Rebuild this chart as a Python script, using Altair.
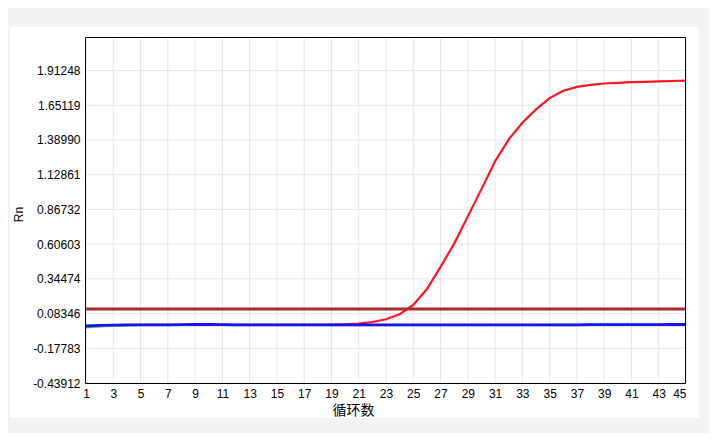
import altair as alt
import pandas as pd

# ---------------- data ----------------
cycles = list(range(1, 46))

red_vals = [-0.014, -0.009, -0.005, -0.003, -0.002, -0.002, -0.002, -0.002, -0.002, -0.002,
            -0.002, -0.002, -0.002, -0.002, -0.002, -0.002, -0.002, -0.001, 0.000, 0.003,
            0.008, 0.020, 0.041, 0.079, 0.149, 0.268, 0.435, 0.610, 0.815, 1.020,
            1.230, 1.395, 1.520, 1.620, 1.705, 1.760, 1.790, 1.805, 1.815, 1.820,
            1.825, 1.828, 1.831, 1.834, 1.836]

orange_vals = [-0.022, -0.014, -0.008, -0.005, -0.004, -0.004, -0.004, -0.004, -0.004, -0.004,
               -0.004, -0.004, -0.004, -0.004, -0.004, -0.004, -0.004, -0.004, -0.004, -0.004,
               -0.004, -0.004, -0.004, -0.004, -0.004, -0.004, -0.004, -0.004, -0.004, -0.004,
               -0.004, -0.004, -0.004, -0.004, -0.004, -0.004, -0.004, -0.004, -0.004, -0.004,
               -0.004, -0.004, -0.004, -0.004, -0.004]

green_vals = [-0.018, -0.012, -0.006, -0.004, -0.003, -0.003, -0.003, -0.003, -0.003, -0.003,
              -0.003, -0.003, -0.003, -0.003, -0.003, -0.003, -0.003, -0.003, -0.003, -0.003,
              -0.002, -0.002, -0.002, -0.002, -0.002, -0.002, -0.002, -0.002, -0.002, -0.002,
              -0.002, -0.002, -0.002, -0.002, -0.001, -0.001, 0.000, 0.001, 0.001, 0.002,
              0.002, 0.002, 0.002, 0.002, 0.002]

blue_vals = [-0.010, -0.006, -0.003, -0.002, -0.002, -0.002, -0.001, 0.000, 0.001, 0.001,
             0.000, -0.001, -0.002, -0.002, -0.002, -0.002, -0.002, -0.002, -0.002, -0.002,
             -0.002, -0.002, -0.002, -0.002, -0.002, -0.002, -0.002, -0.002, -0.002, -0.002,
             -0.002, -0.002, -0.002, -0.002, -0.002, -0.001, -0.001, 0.000, 0.000, 0.000,
             0.000, 0.000, 0.000, 0.001, 0.001]

threshold = 0.117

series_names = ["red", "orange", "green", "blue"]
series_colors = ["#ff1424", "#d08a3c", "#48e048", "#1414f5"]
series_widths = [2.2, 2, 2, 2.8]
series_values = [red_vals, orange_vals, green_vals, blue_vals]

y_ticks = [-0.43912, -0.17783, 0.08346, 0.34474, 0.60603, 0.86732,
           1.12861, 1.38990, 1.65119, 1.91248]
x_ticks = list(range(1, 46, 2))
y_domain = [-0.43912, 2.165]
x_domain = [1, 45]

x_title = "循环数"
y_title = "Rn"

# ---------------- chart ----------------
W, H = 600, 346
PAD = {"left": 78, "top": 29, "right": 23, "bottom": 50}
FONT = "Liberation Sans"
GRID = "#e6e6e6"

rows = []
for name, vals in zip(series_names, series_values):
    for c, v in zip(cycles, vals):
        rows.append({"cycle": c, "rn": v, "series": name})
df = pd.DataFrame(rows)

x_axis = alt.Axis(
    values=x_ticks, title=x_title, grid=False,
    domain=False, ticks=False, labelPadding=5, labelFont=FONT, labelFontSize=12,
    labelColor="#000000", labelOverlap=False, labelFlush=False,
    labelAlign={"expr": "datum.value == 45 ? 'right' : 'center'"},
    titleFont="Noto Sans CJK SC", titleFontSize=14, titleFontWeight="normal",
    titleColor="#000000", titleX=267, titleY=20, titleAlign="center",
    titleBaseline="top",
)
y_axis = alt.Axis(
    values=y_ticks, title=y_title, grid=False,
    domain=False, ticks=False, labelPadding=6, labelFont=FONT, labelFontSize=12,
    labelColor="#000000", labelOverlap=False, labelFlush=False,
    labelExpr="replace(format(datum.value, '.5f'), '\u2212', '-')",
    titleFont=FONT, titleFontSize=12, titleFontWeight="normal", titleColor="#000000",
    titleX=-68, titleY=177, titleAlign="center", titleBaseline="middle", titleAngle=270,
)
x_scale = alt.Scale(domain=x_domain, nice=False, zero=False, padding=0)
y_scale = alt.Scale(domain=y_domain, nice=False, zero=False)

x_enc = alt.X("cycle:Q", scale=x_scale, axis=x_axis)
y_enc = alt.Y("rn:Q", scale=y_scale, axis=y_axis)

# grid lines as rules (under the data)
xgrid = alt.Chart(pd.DataFrame({"cycle": x_ticks})).mark_rule(
    color=GRID, strokeWidth=1
).encode(x=x_enc)
ygrid = alt.Chart(pd.DataFrame({"rn": y_ticks})).mark_rule(
    color=GRID, strokeWidth=1
).encode(y=y_enc)

# gray frame strips around the white panel (decoration)
one = pd.DataFrame({"k": [0]})
strips = [
    (-78, 623, -29, -10),
    (-78, 623, 381, 396),
    (-78, -76, -10, 381),
    (613, 623, -10, 381),
]
strip_layers = [
    alt.Chart(one).mark_rect(color="#f3f3f3", clip=False).encode(
        x=alt.value(a), x2=alt.value(b), y=alt.value(c), y2=alt.value(d)
    )
    for a, b, c, d in strips
]

# black plot frame drawn on top
frame = alt.Chart(one).mark_rect(
    filled=False, stroke="#000000", strokeWidth=1, fillOpacity=0, clip=False
).encode(
    x=alt.value(-0.5), x2=alt.value(W - 0.5), y=alt.value(0.5), y2=alt.value(H + 0.5)
)

line_layers = []
for name, col, w in zip(series_names, series_colors, series_widths):
    line_layers.append(
        alt.Chart(df).transform_filter(alt.datum.series == name)
        .mark_line(color=col, strokeWidth=w)
        .encode(x=x_enc, y=y_enc)
    )

thr = alt.Chart(pd.DataFrame({"rn": [threshold]})).mark_rule(
    color="#a82a2c", strokeWidth=3
).encode(y=y_enc)

chart = alt.layer(xgrid, ygrid, *line_layers, thr, frame, *strip_layers).properties(
    width=W, height=H, autosize=alt.AutoSizeParams(type="none"), padding=PAD,
    background="#ffffff",
).configure_view(strokeWidth=0, fill="#ffffff")

chart.save("out.html", embed_options={"renderer": "svg", "actions": False})
